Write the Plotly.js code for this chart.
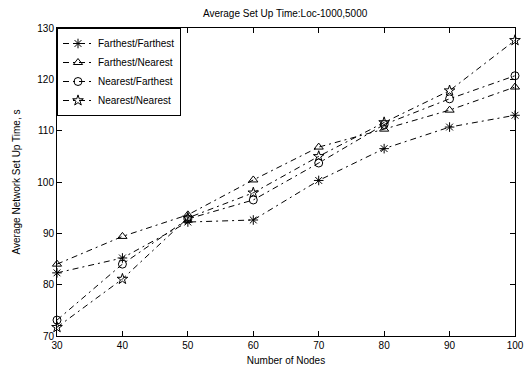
<!DOCTYPE html>
<html><head><meta charset="utf-8">
<script src="https://cdn.plot.ly/plotly-3.0.1.min.js"></script>
<style>body{margin:0;background:#fff}#c{width:528px;height:373px}</style>
</head><body><div id="c"></div>
<script>
const nodes = [30, 40, 50, 60, 70, 80, 90, 100];
const farFar = [82.3, 85.2, 92.2, 92.6, 100.3, 106.5, 110.7, 113.0];
const farNear = [84.0, 89.4, 93.6, 100.4, 106.8, 110.3, 114.0, 118.5];
const nearFar = [73.1, 84.0, 92.8, 96.5, 103.7, 111.2, 116.2, 120.7];
const nearNear = [71.7, 81.1, 93.0, 97.9, 105.0, 111.6, 117.8, 127.6];
const names = ['Farthest/Farthest', 'Farthest/Nearest', 'Nearest/Farthest', 'Nearest/Nearest'];
const series = [farFar, farNear, nearFar, nearNear];
const symbols = ['asterisk-open', 'triangle-up-open', 'circle-open', 'star-open'];

const traces = series.map((ys, i) => ({
  x: nodes, y: ys, name: names[i], type: 'scatter', mode: 'lines+markers',
  line: {color: '#000', width: 1, dash: '6px,4px,2px,4px'},
  marker: {symbol: symbols[i], size: 8, color: '#000', line: {color: '#000', width: 1}},
  cliponaxis: false
}));

const font = {family: 'Liberation Sans, Arial, sans-serif', size: 10, color: '#000'};
const layout = {
  width: 528, height: 373,
  margin: {l: 57, r: 13, t: 28, b: 37},
  paper_bgcolor: '#fff', plot_bgcolor: '#fff',
  font: font,
  title: {text: 'Average Set Up Time:Loc-1000,5000', font: {size: 10}, x: 0.54, xanchor: 'center', y: 0.965, yanchor: 'middle'},
  xaxis: {
    range: [30, 100], tickvals: nodes, ticks: 'inside', ticklen: 5, tickcolor: '#000',
    showline: true, linecolor: '#000', linewidth: 1, mirror: 'ticks', showgrid: false, zeroline: false,
    title: {text: 'Number of Nodes', font: {size: 10}, standoff: 6}
  },
  yaxis: {
    range: [70, 130], dtick: 10, ticks: 'inside', ticklen: 5, tickcolor: '#000',
    showline: true, linecolor: '#000', linewidth: 1, mirror: 'ticks', showgrid: false, zeroline: false,
    title: {text: 'Average Network Set Up Time, s', font: {size: 10}, standoff: 14}
  },
  legend: {x: 0, y: 1, xanchor: 'left', yanchor: 'top', bgcolor: '#fff', bordercolor: '#000', borderwidth: 1,
    font: {size: 10}, tracegroupgap: 0, itemwidth: 30},
  showlegend: true
};
Plotly.newPlot('c', traces, layout, {displayModeBar: false, staticPlot: true});
</script></body></html>
